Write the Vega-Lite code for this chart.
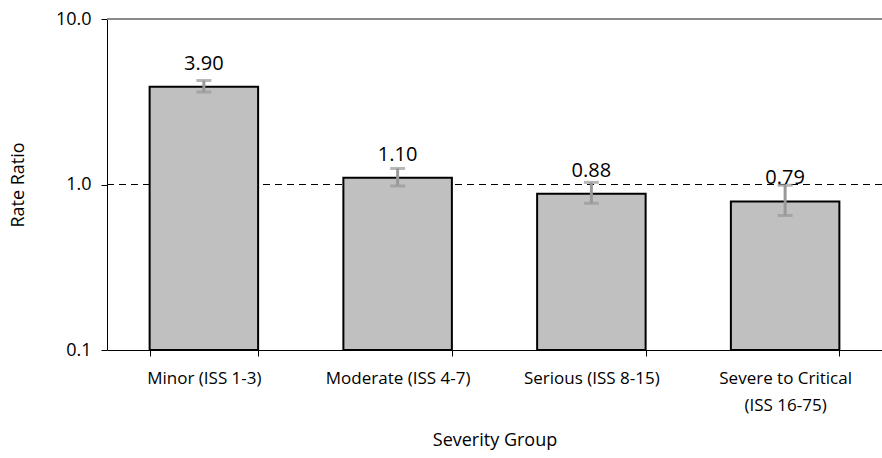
{
  "$schema": "https://vega.github.io/schema/vega-lite/v6.json",
  "width": 775,
  "height": 331,
  "autosize": {"type": "none"},
  "padding": {"left": 107, "top": 19, "right": 0, "bottom": 108},
  "background": "white",
  "config": {
    "view": {"stroke": null},
    "font": "Open Sans",
    "axis": {"labelFont": "Open Sans", "titleFont": "Open Sans", "labelColor": "#000", "titleColor": "#000", "domainColor": "#000", "tickColor": "#000"}
  },
  "data": {
    "values": [
      {"group": "Minor (ISS 1-3)", "rr": 3.90, "lo": 3.62, "hi": 4.25},
      {"group": "Moderate (ISS 4-7)", "rr": 1.10, "lo": 0.98, "hi": 1.25},
      {"group": "Serious (ISS 8-15)", "rr": 0.88, "lo": 0.77, "hi": 1.03},
      {"group": "Severe to Critical (ISS 16-75)", "rr": 0.79, "lo": 0.65, "hi": 0.99}
    ]
  },
  "encoding": {
    "x": {
      "field": "group",
      "type": "nominal",
      "sort": null,
      "scale": {"paddingInner": 0.44, "paddingOuter": 0.22},
      "axis": {
        "title": "Severity Group",
        "titleFontSize": 18,
        "titleFontWeight": "normal",
        "titlePadding": 18,
        "labelFontSize": 17,
        "labelAngle": 0,
        "labelPadding": 14,
        "labelLineHeight": 27,
        "tickBand": "extent",
        "tickSize": 6,
        "ticks": true,
        "domainWidth": 1,
        "labelExpr": "datum.label == 'Severe to Critical (ISS 16-75)' ? ['Severe to Critical', '(ISS 16-75)'] : datum.label"
      }
    }
  },
  "layer": [
    {
      "mark": {"type": "rule", "color": "#888", "strokeWidth": 1.5},
      "encoding": {"x": null, "y": {"datum": 10, "type": "quantitative"}}
    },
    {
      "mark": {"type": "rule", "color": "#000", "strokeWidth": 1, "strokeDash": [7, 5]},
      "encoding": {"x": null, "y": {"datum": 1, "type": "quantitative"}}
    },
    {
      "mark": {"type": "bar", "fill": "#c0c0c0", "stroke": "#000", "strokeWidth": 2},
      "encoding": {
        "y": {
          "field": "rr",
          "type": "quantitative",
          "scale": {"type": "log", "domain": [0.1, 10], "nice": false},
          "axis": {
            "title": "Rate Ratio",
            "titleFontSize": 18,
            "titleFontWeight": "normal",
            "titlePadding": 28,
            "values": [0.1, 1, 10],
            "format": ".1f",
            "labelFontSize": 18,
            "labelPadding": 10,
            "tickSize": 6,
            "grid": false,
            "domainWidth": 1
          }
        },
        "y2": {"datum": 0.1}
      }
    },
    {
      "mark": {"type": "rule", "color": "#999", "strokeWidth": 3},
      "encoding": {
        "y": {"field": "lo", "type": "quantitative"},
        "y2": {"field": "hi"}
      }
    },
    {
      "mark": {"type": "tick", "color": "#999", "thickness": 3, "size": 15, "orient": "horizontal"},
      "encoding": {"y": {"field": "lo", "type": "quantitative"}}
    },
    {
      "mark": {"type": "tick", "color": "#999", "thickness": 3, "size": 15, "orient": "horizontal"},
      "encoding": {"y": {"field": "hi", "type": "quantitative"}}
    },
    {
      "mark": {"type": "text", "fontSize": 20, "baseline": "bottom", "dy": -13, "color": "#000"},
      "encoding": {
        "y": {"field": "rr", "type": "quantitative"},
        "text": {"field": "rr", "type": "quantitative", "format": ".2f"}
      }
    }
  ]
}
